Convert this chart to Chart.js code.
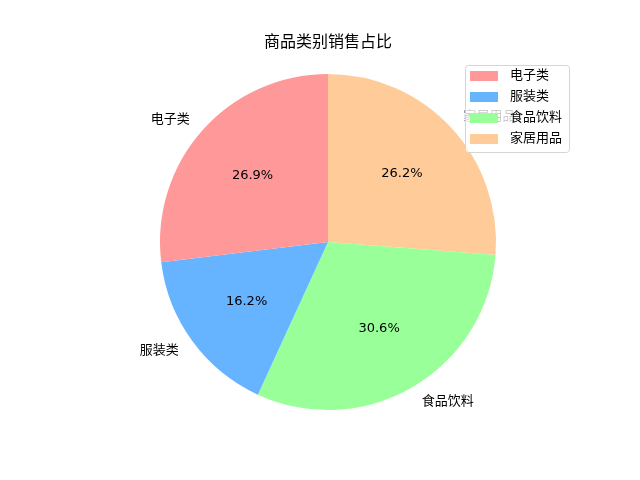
<!DOCTYPE html>
<html>
<head>
<meta charset="utf-8">
<script src="https://cdn.jsdelivr.net/npm/chart.js@4/dist/chart.umd.min.js"></script>
<style>
  html, body { margin: 0; padding: 0; background: #ffffff; }
  canvas { display: block; }
</style>
</head>
<body>
<canvas id="pie-chart" width="640" height="480"></canvas>
<script>
const chartTitle = '商品类别销售占比';
const categories = ['电子类', '服装类', '食品饮料', '家居用品'];
const shares = [26.9, 16.2, 30.6, 26.2];
const colors = ['#ff9999', '#66b3ff', '#99ff99', '#ffcc99'];

const FONT = '"DejaVu Sans", "Noto Sans CJK SC", sans-serif';

// matplotlib draws counterclockwise from the top, Chart.js clockwise,
// so the slices are fed in reverse order
const order = categories.map((_, i) => i).reverse();

const pieDecorations = {
    id: 'pieDecorations',
    afterDatasetsDraw(chart) {
        const ctx = chart.ctx;
        const meta = chart.getDatasetMeta(0);
        const total = shares.reduce((a, b) => a + b, 0);

        ctx.save();
        ctx.fillStyle = '#000000';
        ctx.textBaseline = 'middle';

        meta.data.forEach((arc, k) => {
            const i = order[k];
            const mid = (arc.startAngle + arc.endAngle) / 2;
            const r = arc.outerRadius;
            const cx = arc.x, cy = arc.y;

            // category label outside
            const lx = cx + Math.cos(mid) * r * 1.1;
            const ly = cy + Math.sin(mid) * r * 1.1;
            ctx.font = '13px ' + FONT;
            ctx.textAlign = Math.cos(mid) >= 0 ? 'left' : 'right';
            ctx.fillText(categories[i], lx, ly);

            // percentage inside
            const px = cx + Math.cos(mid) * r * 0.6;
            const py = cy + Math.sin(mid) * r * 0.6;
            ctx.textAlign = 'center';
            ctx.fillText((shares[i] / total * 100).toFixed(1) + '%', px, py);
        });

        // title
        ctx.font = '16px ' + FONT;
        ctx.textAlign = 'center';
        ctx.fillText(chartTitle, 328, 43);

        // legend, anchored to the upper right, sized to its text
        ctx.font = '13px ' + FONT;
        const textW = Math.max(...categories.map(c => ctx.measureText(c).width));
        const boxW = Math.ceil(5 + 28 + 12 + textW + 6);
        const boxX = 569.5 - boxW, boxY = 65.5, boxH = 87;
        ctx.beginPath();
        ctx.roundRect(boxX, boxY, boxW, boxH, 3);
        ctx.fillStyle = 'rgba(255,255,255,0.8)';
        ctx.fill();
        ctx.strokeStyle = '#d5d5d5';
        ctx.lineWidth = 1;
        ctx.stroke();

        ctx.textAlign = 'left';
        const patchX = boxX + 4.5;
        categories.forEach((name, i) => {
            const y = 76 + i * 21;
            ctx.fillStyle = colors[i];
            ctx.fillRect(patchX, y - 5, 28, 10);
            ctx.fillStyle = '#000000';
            ctx.fillText(name, patchX + 40, y);
        });
        ctx.restore();
    }
};

const ctx = document.getElementById('pie-chart').getContext('2d');

new Chart(ctx, {
    type: 'pie',
    data: {
        labels: order.map(i => categories[i]),
        datasets: [{
            data: order.map(i => shares[i]),
            backgroundColor: order.map(i => colors[i]),
            borderWidth: 0
        }]
    },
    options: {
        responsive: false,
        animation: false,
        layout: {
            padding: { left: 160, right: 144, top: 74, bottom: 70 }
        },
        plugins: {
            legend: { display: false },
            title: { display: false },
            tooltip: { enabled: false }
        }
    },
    plugins: [pieDecorations]
});
</script>
</body>
</html>
